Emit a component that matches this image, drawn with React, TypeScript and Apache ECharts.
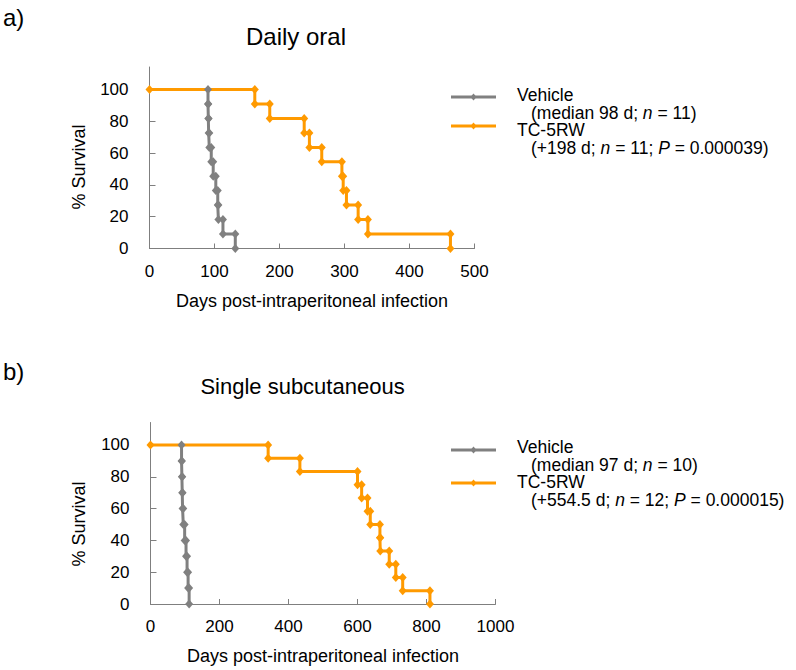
import React, { useEffect, useRef } from "react";
import * as echarts from "echarts";

const FONT = "'Liberation Sans', Arial, Helvetica, sans-serif";
const GRAY = "#808080";
const ORANGE = "#FF9A00";

// Panel a) Daily oral — death days and survival (%) after each death
const vehicleA_days = [90, 90.5, 91, 92, 95, 98, 102, 105, 106, 113, 132];
const vehicleA_surv = [90.9, 81.8, 72.7, 63.6, 54.5, 45.5, 36.4, 27.3, 18.2, 9.1, 0];
const tcA_days = [162, 185, 238, 246, 265, 296, 298, 303, 321, 336, 463];
const tcA_surv = [90.9, 81.8, 72.7, 63.6, 54.5, 45.5, 36.4, 27.3, 18.2, 9.1, 0];

// Panel b) Single subcutaneous
const vehicleB_days = [90, 91, 92, 93, 95, 99, 103, 106, 109, 112];
const vehicleB_surv = [90, 80, 70, 60, 50, 40, 30, 20, 10, 0];
const tcB_days = [341, 433, 600, 612, 629, 637, 665, 666, 692, 711, 731, 810];
const tcB_surv = [91.7, 83.3, 75, 66.7, 58.3, 50, 41.7, 33.3, 25, 16.7, 8.3, 0];

const yTicks = [0, 20, 40, 60, 80, 100];
const xTicksA = [0, 100, 200, 300, 400, 500];
const xTicksB = [0, 200, 400, 600, 800, 1000];

const titleA = "Daily oral";
const titleB = "Single subcutaneous";
const xName = "Days post-intraperitoneal infection";
const yName = "% Survival";

const legendA = [
  { name: "Vehicle", sub: "{r|(median 98 d; }{i|n}{r| = 11)}" },
  { name: "TC-5RW", sub: "{r|(+198 d; }{i|n}{r| = 11; }{i|P}{r| = 0.000039)}" },
];
const legendB = [
  { name: "Vehicle", sub: "{r|(median 97 d; }{i|n}{r| = 10)}" },
  { name: "TC-5RW", sub: "{r|(+554.5 d; }{i|n}{r| = 12; }{i|P}{r| = 0.000015)}" },
];

function kmPath(days: number[], surv: number[], fromZero: boolean) {
  const pts: number[][] = fromZero ? [[0, 100]] : [];
  let prev = 100;
  for (let i = 0; i < days.length; i++) {
    pts.push([days[i], prev]);
    pts.push([days[i], surv[i]]);
    prev = surv[i];
  }
  return pts;
}

function xAxis(gridIndex: number, ticks: number[]) {
  return {
    type: "value",
    gridIndex,
    min: ticks[0],
    max: ticks[ticks.length - 1],
    interval: ticks[1] - ticks[0],
    axisLine: { show: true, lineStyle: { color: "#7f7f7f", width: 1 } },
    axisTick: { show: true, inside: true, length: 5, lineStyle: { color: "#7f7f7f" } },
    axisLabel: {
      margin: 14,
      fontSize: 17,
      color: "#000",
      fontFamily: FONT,
      formatter: (v: number) => String(v),
    },
    splitLine: { show: false },
    name: xName,
    nameLocation: "middle",
    nameGap: 43,
    nameTextStyle: { fontSize: 18, color: "#000", fontFamily: FONT },
  };
}

function yAxis(gridIndex: number) {
  return {
    type: "value",
    gridIndex,
    min: 0,
    max: 114.15,
    axisLine: { show: true, lineStyle: { color: "#7f7f7f", width: 1 } },
    axisTick: {
      show: true,
      inside: true,
      length: 6,
      customValues: yTicks,
      lineStyle: { color: "#7f7f7f" },
    },
    axisLabel: { margin: 21, fontSize: 17, color: "#000", fontFamily: FONT, customValues: yTicks },
    splitLine: { show: false },
  };
}

function series(name: string, data: number[][], color: string, idx: number, z: number) {
  return {
    type: "line",
    name,
    xAxisIndex: idx,
    yAxisIndex: idx,
    data,
    symbol: "diamond",
    symbolSize: [8, 9],
    showSymbol: true,
    showAllSymbol: true,
    clip: false,
    z,
    lineStyle: { color, width: 3 },
    itemStyle: { color },
  };
}

const LEG_FS = 17.5;

function legendGraphics(items: { name: string; sub: string }[], colors: string[], lineYs: number[], textYs: number[]) {
  const els: any[] = [];
  items.forEach((it, k) => {
    const ly = lineYs[k];
    els.push({
      type: "line",
      shape: { x1: 451, y1: ly, x2: 496, y2: ly },
      style: { stroke: colors[k], lineWidth: 3 },
    });
    els.push({
      type: "polygon",
      shape: { points: [[473.5, ly - 3.5], [476.5, ly], [473.5, ly + 3.5], [470.5, ly]] },
      style: { fill: colors[k] },
    });
    els.push({
      type: "text",
      x: 517,
      y: textYs[2 * k],
      style: { text: it.name, fontSize: LEG_FS, fontFamily: FONT, fill: "#000", verticalAlign: "middle", align: "left" },
    });
    els.push({
      type: "text",
      x: 531,
      y: textYs[2 * k + 1],
      style: {
        text: it.sub,
        fontSize: LEG_FS,
        fontFamily: FONT,
        fill: "#000",
        verticalAlign: "middle",
        align: "left",
        rich: {
          r: { fontSize: LEG_FS, fontFamily: FONT, fill: "#000" },
          i: { fontSize: LEG_FS, fontFamily: FONT, fill: "#000", fontStyle: "italic" },
        },
      },
    });
  });
  return els;
}

function textEl(text: string, x: number, y: number, size: number, align: string, rotation = 0) {
  return {
    type: "text",
    x,
    y,
    rotation,
    style: { text, fontSize: size, fontFamily: FONT, fill: "#000", align, verticalAlign: "middle" },
  };
}

export default function App() {
  const ref = useRef<HTMLDivElement>(null);
  useEffect(() => {
    if (!ref.current) return;
    const chart = echarts.init(ref.current, null, { renderer: "svg" });
    const option: any = {
      animation: false,
      textStyle: { fontFamily: FONT },
      grid: [
        { left: 149.5, top: 67, width: 325, height: 181.5 },
        { left: 150.5, top: 422.5, width: 345, height: 181.5 },
      ],
      xAxis: [xAxis(0, xTicksA), xAxis(1, xTicksB)],
      yAxis: [yAxis(0), yAxis(1)],
      series: [
        series("TC-5RW", kmPath(tcA_days, tcA_surv, true), ORANGE, 0, 2),
        series("Vehicle", kmPath(vehicleA_days, vehicleA_surv, false), GRAY, 0, 3),
        series("TC-5RW", kmPath(tcB_days, tcB_surv, true), ORANGE, 1, 2),
        series("Vehicle", kmPath(vehicleB_days, vehicleB_surv, false), GRAY, 1, 3),
      ],
      graphic: [
        textEl("a)", 3, 17, 24, "left"),
        textEl("b)", 3, 371, 24, "left"),
        textEl(titleA, 296, 36, 24, "center"),
        textEl(titleB, 302.5, 386, 22, "center"),
        textEl(yName, 79, 167, 18, "center", Math.PI / 2),
        textEl(yName, 79, 524, 18, "center", Math.PI / 2),
        ...legendGraphics(legendA, [GRAY, ORANGE], [97, 126], [95, 112.5, 130, 147.5]),
        ...legendGraphics(legendB, [GRAY, ORANGE], [450, 483], [447, 464.5, 482, 499.5]),
      ],
    };
    chart.setOption(option);
    return () => chart.dispose();
  }, []);
  return (
    <div
      ref={ref}
      style={{ position: "fixed", left: 0, top: 0, width: 796, height: 670, background: "#fff" }}
    />
  );
}
